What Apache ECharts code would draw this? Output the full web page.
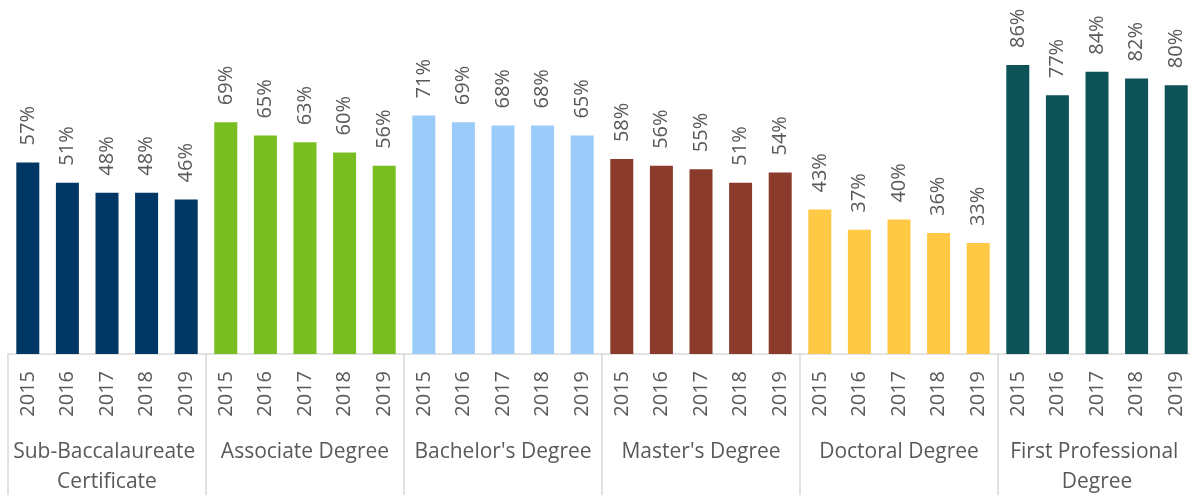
<!DOCTYPE html>
<html>
<head>
<meta charset="utf-8">
<script src="https://cdn.jsdelivr.net/npm/echarts@6/dist/echarts.min.js"></script>
<style>
  html, body { margin: 0; padding: 0; background: #fff; }
  #chart { width: 1190px; height: 495px; }
</style>
</head>
<body>
<div id="chart"></div>
<script>
const groups = ['Sub-Baccalaureate Certificate', 'Associate Degree', "Bachelor's Degree", "Master's Degree", 'Doctoral Degree', 'First Professional Degree']
const years = ['2015', '2016', '2017', '2018', '2019']
const groupColors = ['#003764', '#78BE20', '#9BCBF9', '#8A3B2C', '#FFC845', '#0D5257']

const subBacc = [57, 51, 48, 48, 46]
const associate = [69, 65, 63, 60, 56]
const bachelor = [71, 69, 68, 68, 65]
const master = [58, 56, 55, 51, 54]
const doctoral = [43, 37, 40, 36, 33]
const firstProf = [86, 77, 84, 82, 80]

const values = [subBacc, associate, bachelor, master, doctoral, firstProf]

const textColor = '#595959'
const font = 'Open Sans'

const yearCats = []
const barData = []
values.forEach((arr, g) => {
  arr.forEach((v, i) => {
    yearCats.push(years[i])
    barData.push({ value: v, itemStyle: { color: groupColors[g] } })
  })
})

const chart = echarts.init(document.getElementById('chart'))

const option = {
  animation: false,
  grid: { left: 8, width: 1188, top: 18, height: 336, outerBoundsMode: 'none' },
  xAxis: [
    {
      type: 'category',
      data: yearCats,
      axisLine: { show: true, lineStyle: { color: '#d9d9d9', width: 1.5 } },
      axisTick: { show: false },
      axisLabel: {
        interval: 0,
        rotate: 90,
        margin: 17,
        color: textColor,
        fontFamily: font,
        fontSize: 20
      }
    },
    {
      type: 'category',
      position: 'bottom',
      data: groups,
      axisLine: { show: false },
      axisTick: { show: true, length: 145, lineStyle: { color: '#d9d9d9', width: 1.5 } },
      axisLabel: {
        interval: 0,
        margin: 83,
        color: textColor,
        fontFamily: font,
        fontSize: 21,
        lineHeight: 30,
        width: 190,
        overflow: 'break'
      }
    }
  ],
  yAxis: {
    type: 'value',
    min: 0,
    max: 100,
    show: false,
    splitLine: { show: false }
  },
  series: [
    {
      type: 'bar',
      xAxisIndex: 0,
      data: barData,
      barWidth: 23,
      label: {
        show: true,
        position: 'top',
        rotate: 90,
        align: 'left',
        verticalAlign: 'middle',
        distance: 17,
        formatter: p => p.value + '%',
        color: textColor,
        fontFamily: font,
        fontSize: 20
      }
    }
  ]
}

chart.setOption(option)
</script>
</body>
</html>
